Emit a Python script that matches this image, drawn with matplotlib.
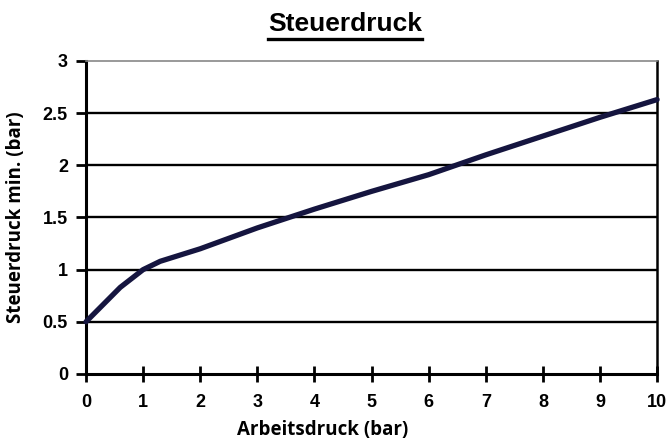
import matplotlib.pyplot as plt
from matplotlib.lines import Line2D

# Daten
arbeitsdruck = [0, 0.6, 1.0, 1.3, 2, 3, 4, 5, 6, 7, 8, 9, 10]
steuerdruck = [0.5, 0.83, 1.0, 1.08, 1.2, 1.4, 1.58, 1.75, 1.91, 2.1, 2.28, 2.46, 2.63]
x_ticks = list(range(0, 11))
y_ticks = [0, 0.5, 1, 1.5, 2, 2.5, 3]
y_labels = ["0", "0.5", "1", "1.5", "2", "2.5", "3"]

plt.rcParams['font.family'] = ['Liberation Sans', 'DejaVu Sans']
plt.rcParams['font.weight'] = 'bold'

fig = plt.figure(figsize=(6.68, 4.45), dpi=100)
ax = fig.add_axes([0.1287, 0.1596, 0.855, 0.7034])

for yv in y_ticks[1:-1]:
    ax.axhline(yv, color='black', lw=1.7, zorder=1)

ax.plot(arbeitsdruck, steuerdruck, color='#15153f', lw=3.8, solid_capstyle='round',
        solid_joinstyle='round', zorder=3, clip_on=False)

ax.set_xlim(0, 10)
ax.set_ylim(0, 3)
ax.set_xticks(x_ticks)
ax.set_yticks(y_ticks)
ax.set_yticklabels(y_labels)
ax.tick_params(axis='x', direction='inout', length=11, width=2, labelsize=13, pad=9)
ax.tick_params(axis='y', direction='out', length=7, width=2, labelsize=13, pad=6)
for lab in ax.get_xticklabels() + ax.get_yticklabels():
    lab.set_fontweight('bold')

ax.spines['left'].set_linewidth(2.2)
ax.spines['bottom'].set_linewidth(2.2)
ax.spines['right'].set_linewidth(1.8)
ax.spines['top'].set_linewidth(1.2)
ax.spines['top'].set_color('#888888')

ax.set_xlabel("Arbeitsdruck (bar)", fontsize=13.5, fontweight='bold',
              family=['Open Sans', 'DejaVu Sans'])
ax.xaxis.set_label_coords(0.415, -0.148)
ax.set_ylabel("Steuerdruck min. (bar)", fontsize=13.5, fontweight='bold', labelpad=12,
              family=['Open Sans', 'DejaVu Sans'])

title = fig.text(0.517, 0.945, "Steuerdruck", ha='center', va='center', fontsize=19,
                 fontweight='bold', fontstretch='condensed')
fig.canvas.draw()
bb = title.get_window_extent().transformed(fig.transFigure.inverted())
fig.add_artist(Line2D([bb.x0, bb.x1], [bb.y0 - 0.006, bb.y0 - 0.006], color='black', lw=2.4,
                      transform=fig.transFigure))

fig.savefig("out.png", dpi=100)
